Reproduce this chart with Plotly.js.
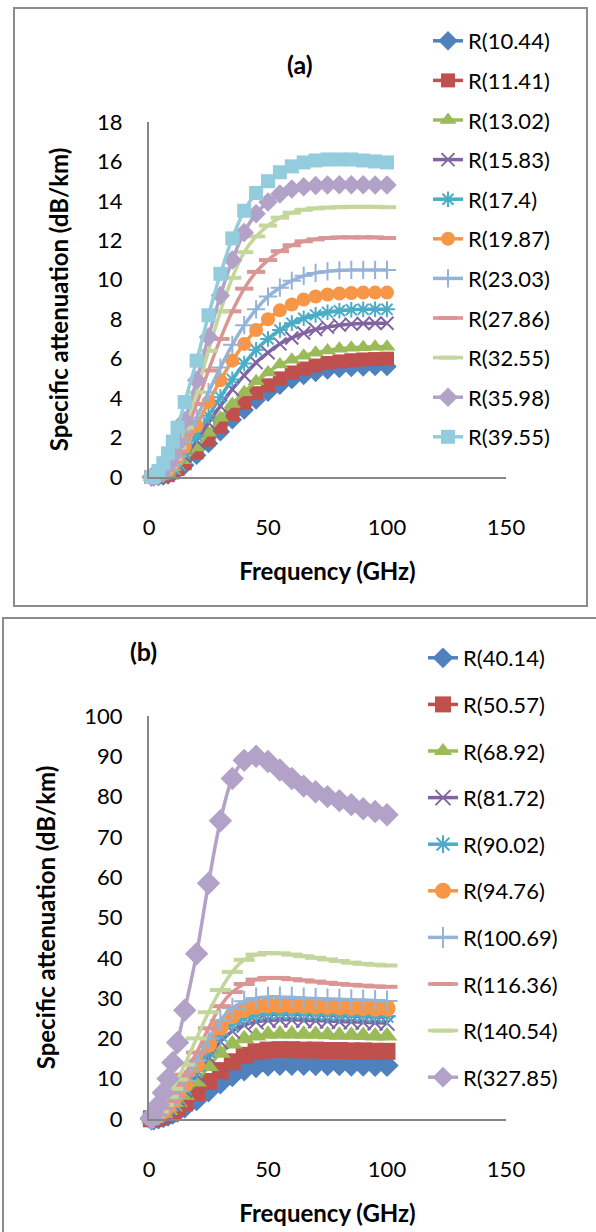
<!DOCTYPE html>
<html><head><meta charset="utf-8">
<script src="https://cdn.plot.ly/plotly-3.0.1.min.js"></script>
<style>html,body{margin:0;padding:0;background:#fff}#chart{width:596px;height:1232px}</style>
</head><body><div id="chart"></div>
<script>
// Frequency (GHz)
const freq = [1,2,4,6,8,10,12,15,20,25,30,35,40,45,50,55,60,65,70,75,80,85,90,95,100];

// Panel (a) series names
const namesA = ['R(10.44)','R(11.41)','R(13.02)','R(15.83)','R(17.4)','R(19.87)','R(23.03)','R(27.86)','R(32.55)','R(35.98)','R(39.55)'];
const a_10_44 = [0,0,0.02,0.05,0.1,0.2,0.35,0.6,1.1,1.7,2.3,2.9,3.4,3.9,4.3,4.65,4.95,5.15,5.3,5.42,5.5,5.55,5.58,5.6,5.6];
const a_11_41 = [0,0,0.02,0.06,0.12,0.24,0.4,0.7,1.25,1.9,2.55,3.2,3.75,4.25,4.65,5.0,5.3,5.5,5.65,5.78,5.86,5.92,5.96,5.98,6.0];
const a_13_02 = [0,0,0.03,0.08,0.15,0.3,0.5,0.85,1.5,2.25,3.0,3.7,4.3,4.85,5.3,5.7,5.95,6.15,6.3,6.42,6.5,6.55,6.58,6.6,6.6];
const a_15_83 = [0,0.01,0.04,0.1,0.2,0.38,0.62,1.05,1.85,2.75,3.6,4.45,5.15,5.8,6.3,6.75,7.05,7.3,7.48,7.6,7.7,7.75,7.78,7.8,7.8];
const a_17_4  = [0,0.01,0.05,0.12,0.24,0.44,0.72,1.2,2.1,3.1,4.05,4.95,5.75,6.45,7.0,7.45,7.8,8.05,8.22,8.35,8.43,8.48,8.5,8.5,8.5];
const a_19_87 = [0,0.01,0.06,0.15,0.3,0.55,0.9,1.5,2.6,3.8,4.9,5.9,6.75,7.45,8.0,8.45,8.75,9.0,9.15,9.25,9.3,9.33,9.35,9.35,9.35];
const a_23_03 = [0,0.01,0.07,0.18,0.36,0.65,1.05,1.75,3.0,4.3,5.55,6.7,7.7,8.5,9.15,9.6,9.95,10.2,10.35,10.43,10.48,10.5,10.5,10.5,10.5];
const a_27_86 = [0,0.02,0.09,0.22,0.45,0.8,1.3,2.15,3.7,5.4,7.0,8.4,9.55,10.4,11.0,11.45,11.75,11.95,12.05,12.12,12.15,12.15,12.15,12.15,12.12];
const a_32_55 = [0,0.02,0.1,0.25,0.52,0.92,1.5,2.5,4.3,6.4,8.4,10.1,11.4,12.2,12.75,13.15,13.4,13.55,13.62,13.66,13.68,13.7,13.7,13.7,13.68];
const a_35_98 = [0,0.03,0.12,0.3,0.6,1.05,1.7,2.85,4.9,7.1,9.2,11.0,12.4,13.35,13.95,14.35,14.6,14.72,14.78,14.8,14.82,14.82,14.82,14.8,14.8];
const a_39_55 = [0,0.04,0.3,0.7,1.2,1.8,2.5,3.8,5.9,8.2,10.3,12.1,13.5,14.4,15.0,15.45,15.75,15.95,16.05,16.1,16.1,16.1,16.05,16.0,15.95];

// Panel (b) series names
const namesB = ['R(40.14)','R(50.57)','R(68.92)','R(81.72)','R(90.02)','R(94.76)','R(100.69)','R(116.36)','R(140.54)','R(327.85)'];
const b_40_14  = [0.02,0.08,0.3,0.6,1.0,1.5,2.0,3.0,4.8,7.0,9.0,10.8,12.2,13.0,13.4,13.6,13.6,13.6,13.5,13.5,13.5,13.4,13.4,13.3,13.3];
const b_50_57  = [0.04,0.12,0.45,0.9,1.4,2.0,2.8,4.0,6.5,9.3,12.0,14.2,15.8,16.7,17.1,17.2,17.2,17.1,17.1,17.0,17.0,16.9,16.9,16.8,16.8];
const b_68_92  = [0.05,0.2,0.6,1.3,2.1,3.0,4.1,5.9,9.2,13.0,16.3,18.6,19.9,20.6,21.0,21.1,21.1,21.0,21.0,20.9,20.8,20.8,20.7,20.6,20.6];
const b_81_72  = [0.1,0.2,0.8,1.6,2.6,3.7,5.0,7.1,11.0,15.4,19.2,21.8,23.3,24.1,24.5,24.6,24.6,24.5,24.4,24.3,24.2,24.1,24.0,23.9,23.8];
const b_90_02  = [0.1,0.3,0.9,1.8,2.9,4.1,5.5,7.8,12.0,16.8,20.8,23.5,25.0,25.8,26.2,26.3,26.3,26.2,26.1,26.0,25.9,25.8,25.7,25.6,25.5];
const b_94_76  = [0.1,0.3,1.0,2.0,3.2,4.6,6.2,8.7,13.5,18.5,22.8,25.6,27.2,28.0,28.3,28.3,28.2,28.1,28.0,27.9,27.8,27.7,27.6,27.5,27.5];
const b_100_69 = [0.1,0.3,1.1,2.2,3.5,5.0,6.8,9.5,14.5,20.0,24.5,27.5,29.2,30.0,30.3,30.3,30.2,30.0,29.9,29.8,29.7,29.6,29.5,29.4,29.3];
const b_116_36 = [0.1,0.4,1.3,2.6,4.2,6.0,8.0,11.0,16.5,22.5,28.0,31.5,33.5,34.6,35.0,35.0,34.7,34.4,34.1,33.8,33.5,33.3,33.1,32.9,32.8];
const b_140_54 = [0.2,0.6,1.8,3.5,5.5,7.5,9.8,13.5,20.0,26.5,32.0,36.5,39.5,40.8,41.2,41.1,40.8,40.4,40.0,39.6,39.2,38.8,38.5,38.3,38.1];
const b_327_85 = [0.3,1.2,3.5,6.5,10.0,14.0,19.0,27.0,41.0,58.5,74.0,84.5,89.0,90.0,88.7,86.6,84.5,82.6,81.2,80.0,79.0,78.0,77.0,76.3,75.5];

const seriesA = [a_10_44,a_11_41,a_13_02,a_15_83,a_17_4,a_19_87,a_23_03,a_27_86,a_32_55,a_35_98,a_39_55];
const seriesB = [b_40_14,b_50_57,b_68_92,b_81_72,b_90_02,b_94_76,b_100_69,b_116_36,b_140_54,b_327_85];

// Excel-like styles by series index
const colors = ['#4F81BD','#C0504D','#9BBB59','#8064A2','#4BACC6','#F79646','#95B3D7','#D99694','#C3D69B','#B3A2C7','#93CDDD'];
const symbols = ['diamond','square','triangle-up','x-thin-open','asterisk-open','circle','cross-thin-open','line-ew-open','line-ew-open','diamond','square'];
const openSym = [false,false,false,true,true,false,true,true,true,false,false];

function makeTrace(y, i, name, panel) {
  const big = panel === 'b';
  let size = openSym[i] ? (big ? 15 : 13) : (big ? 18 : 15);
  if (symbols[i] === 'square') size = big ? 17 : 14;
  if (symbols[i] === 'circle') size = big ? 17 : 14;
  const marker = {symbol: symbols[i], size: size, color: colors[i]};
  if (openSym[i]) marker.line = {color: colors[i], width: (symbols[i]==='line-ew-open') ? 4 : 2};
  else marker.line = {width: 0};
  return {
    type: 'scatter', mode: 'lines+markers', x: freq, y: y, name: name,
    xaxis: panel === 'a' ? 'x' : 'x2', yaxis: panel === 'a' ? 'y' : 'y2',
    legend: panel === 'a' ? 'legend' : 'legend2', legendgroup: panel + i,
    line: {color: colors[i], width: 3.5, shape: 'spline', smoothing: 1},
    marker: marker, cliponaxis: false
  };
}

const traces = [];
seriesA.forEach((y, i) => traces.push(makeTrace(y, i, namesA[i], 'a')));
seriesB.forEach((y, i) => traces.push(makeTrace(y, i, namesB[i], 'b')));

const W = 596, H = 1232;
const px = v => v / W, py = v => 1 - v / H;
const fontFam = 'Lato, "Open Sans", sans-serif';
const tickFont = {family: fontFam, size: 22, color: '#000'};
const titleFont = {family: fontFam, size: 24, color: '#000', weight: 'bold'};

function xax(domain, anchor) {
  return {domain: domain, anchor: anchor, range: [0, 150], tickvals: [0, 50, 100, 150],
    showgrid: false, zeroline: false, showline: true, linecolor: '#868686', linewidth: 2,
    ticks: '', ticklabelstandoff: 30, tickfont: tickFont, fixedrange: true,
    title: {text: 'Frequency (GHz)', font: titleFont, standoff: 24}};
}
function yax(domain, anchor, range, dtick) {
  return {domain: domain, anchor: anchor, range: range, dtick: dtick, tick0: 0,
    showgrid: false, zeroline: false, showline: true, linecolor: '#868686', linewidth: 2,
    ticks: '', ticklabelstandoff: 20, tickfont: tickFont, fixedrange: true,
    title: {text: 'Specific attenuation (dB/km)', font: titleFont, standoff: 22}};
}

const layout = {
  width: W, height: H, margin: {l: 0, r: 0, t: 0, b: 0},
  paper_bgcolor: '#fff', plot_bgcolor: 'rgba(0,0,0,0)',
  font: {family: fontFam, color: '#000'},
  showlegend: true,
  xaxis: xax([px(149), px(506)], 'y'),
  yaxis: yax([py(477), py(122)], 'x', [0, 18], 2),
  xaxis2: xax([px(149), px(506)], 'y2'),
  yaxis2: yax([py(1119), py(716)], 'x2', [0, 100], 10),
  legend: {x: px(428), y: py(20), xanchor: 'left', yanchor: 'top', bgcolor: 'rgba(0,0,0,0)',
    font: {family: fontFam, size: 22, color: '#000'}, tracegroupgap: 8, traceorder: 'grouped'},
  legend2: {x: px(423), y: py(637), xanchor: 'left', yanchor: 'top', bgcolor: 'rgba(0,0,0,0)',
    font: {family: fontFam, size: 22, color: '#000'}, tracegroupgap: 15, traceorder: 'grouped'},
  shapes: [
    {type: 'rect', xref: 'paper', yref: 'paper', x0: px(14), x1: px(587), y0: py(606), y1: py(8),
      line: {color: '#8c8c8c', width: 2}, fillcolor: 'rgba(0,0,0,0)', layer: 'below'},
    {type: 'rect', xref: 'paper', yref: 'paper', x0: px(3), x1: 1.05, y0: -0.05, y1: py(618),
      line: {color: '#8c8c8c', width: 2}, fillcolor: 'rgba(0,0,0,0)', layer: 'below'}
  ],
  annotations: [
    {text: '(a)', xref: 'paper', yref: 'paper', x: px(300), y: py(47), showarrow: false,
      font: {family: fontFam, size: 25, color: '#000', weight: 'bold'}},
    {text: '(b)', xref: 'paper', yref: 'paper', x: px(128), y: py(651), showarrow: false,
      font: {family: fontFam, size: 25, color: '#000', weight: 'bold'}}
  ]
};

Plotly.newPlot('chart', traces, layout, {displayModeBar: false, staticPlot: true});
</script>
</body></html>
